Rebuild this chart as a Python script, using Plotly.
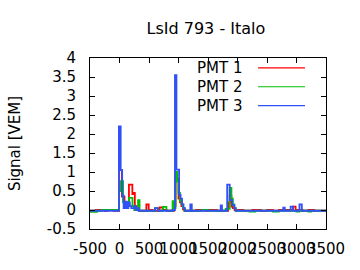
import plotly.graph_objects as go

# Step traces: start time of each step and its value (hv steps), last point closes at 3500
t_pmt1 = [-500, -400, -250, -200, -100, -10, 40, 85, 110, 160, 218, 240, 260, 290, 330, 455, 495, 560, 680, 730, 800,
          925, 950, 975, 1000, 1025, 1050, 1075, 1100, 1300, 1450, 1500, 1650, 1840, 1868, 1897, 1920, 1950,
          2100, 2250, 2400, 2500, 2600, 2700, 2940, 2985, 3100, 3200, 3300, 3500]
v_pmt1 = [-0.02, 0.0, -0.02, 0.0, -0.02, 1.05, 0.35, 0.2, 0.1, 0.67, 0.42, 0.45, 0.1, 0.05, -0.02, 0.15, 0.0, -0.02, 0.07, 0.0, -0.02,
          0.1, 1.0, 0.82, 0.3, 0.2, 0.1, 0.02, -0.02, 0.0, -0.02, 0.0, -0.02, 0.2, 0.37, 0.09, 0.05, 0.0,
          -0.02, 0.0, -0.02, 0.0, -0.02, 0.0, 0.09, 0.0, -0.02, 0.0, -0.02, -0.02]

t_pmt2 = [-500, -490, -440, -420, -380, -300, -10, 20, 60, 90, 110, 140, 160, 220, 250, 314, 340, 600, 650, 737, 795,
          900, 925, 950, 975, 1000, 1025, 1050, 1075, 1100, 1400, 1500, 1800, 1868, 1897, 1920, 1947, 1970,
          2200, 2300, 2600, 2700, 3000, 3050, 3200, 3250, 3500]
v_pmt2 = [-0.02, -0.05, -0.02, -0.05, -0.02, 0.0, 0.5, 0.76, 0.2, 0.05, 0.1, 0.15, 0.32, 0.1, 0.0, 0.26, -0.02, 0.05, -0.02, 0.08, -0.02,
          0.23, 0.05, 1.0, 0.75, 0.45, 0.25, 0.15, 0.05, -0.02, 0.0, -0.02, 0.03, 0.58, 0.3, 0.15, 0.05, -0.02,
          -0.04, -0.02, -0.04, -0.02, -0.04, -0.02, -0.04, -0.02, -0.02]

t_pmt3 = [-500, -10, 20, 45, 70, 100, 125, 150, 175, 200, 250, 275, 300, 325, 600, 650, 900, 940, 965, 1010, 1035, 1060, 1085, 1110,
          1200, 1225, 1715, 1737, 1825, 1868, 1913, 1947, 1970, 2775, 2800, 2900, 2940, 3050, 3090, 3500]
v_pmt3 = [-0.02, 2.2, 1.05, 0.38, 0.05, 0.22, 0.05, 0.2, 0.1, 0.05, 0.1, 0.0, 0.05, -0.02, 0.05, -0.02, 0.0, 3.55, 1.06, 0.4, 0.3, 0.15, 0.05, -0.02,
          0.15, -0.02, 0.12, -0.02, 0.67, 0.26, 0.13, 0.05, -0.02, 0.06, -0.02, 0.09, -0.02, 0.15, -0.02, -0.02]

names = ["PMT 1", "PMT 2", "PMT 3"]
colors = ["#ff0000", "#00c000", "#3050f8"]
x_ticks = [-500, 0, 500, 1000, 1500, 2000, 2500, 3000, 3500]
y_ticks = [-0.5, 0, 0.5, 1, 1.5, 2, 2.5, 3, 3.5, 4]
y_tick_text = ["-0.5", "0", "0.5", "1", "1.5", "2", "2.5", "3", "3.5", "4"]

FONT = "DejaVu Sans"
fig = go.Figure()
for t, v, n, c in zip([t_pmt1, t_pmt2, t_pmt3], [v_pmt1, v_pmt2, v_pmt3], names, colors):
    fig.add_trace(go.Scatter(x=t, y=v, name=n, mode="lines", line=dict(color=c, width=1.8, shape="hv"),
                             showlegend=False))

# gnuplot-style key: text right-aligned, sample line to the right
key_rows = [0.942, 0.832, 0.722]
for n, c, yy in zip(names, colors, key_rows):
    fig.add_annotation(x=0.652, y=yy, xref="paper", yref="paper", text=n, showarrow=False,
                       xanchor="right", yanchor="middle", font=dict(family=FONT, size=15, color="black"))
    fig.add_shape(type="line", xref="paper", yref="paper", x0=0.712, x1=0.911, y0=yy, y1=yy,
                  line=dict(color=c, width=1.2))

axis_common = dict(showline=True, linecolor="black", linewidth=1, mirror="allticks", ticks="inside",
                   ticklen=5, tickcolor="black", showgrid=False, zeroline=False,
                   tickfont=dict(family=FONT, size=15, color="black"))
fig.update_xaxes(range=[-500, 3500], tickvals=x_ticks, ticktext=[str(v) for v in x_ticks],
                 tickangle=0, ticklabelstandoff=6, **axis_common)
fig.update_yaxes(range=[-0.5, 4], tickvals=y_ticks, ticktext=y_tick_text,
                 ticklabelstandoff=10,
                 title=dict(text="Signal [VEM]", font=dict(family=FONT, size=15, color="black"), standoff=22),
                 **axis_common)
fig.update_layout(
    width=360, height=270,
    margin=dict(l=90, r=34, t=58, b=39),
    paper_bgcolor="white", plot_bgcolor="white",
    title=dict(text="LsId 793 - Italo", x=0.572, xanchor="center", y=0.896, yanchor="middle",
               font=dict(family=FONT, size=16, color="black")),
)
fig.write_html("out.html")
